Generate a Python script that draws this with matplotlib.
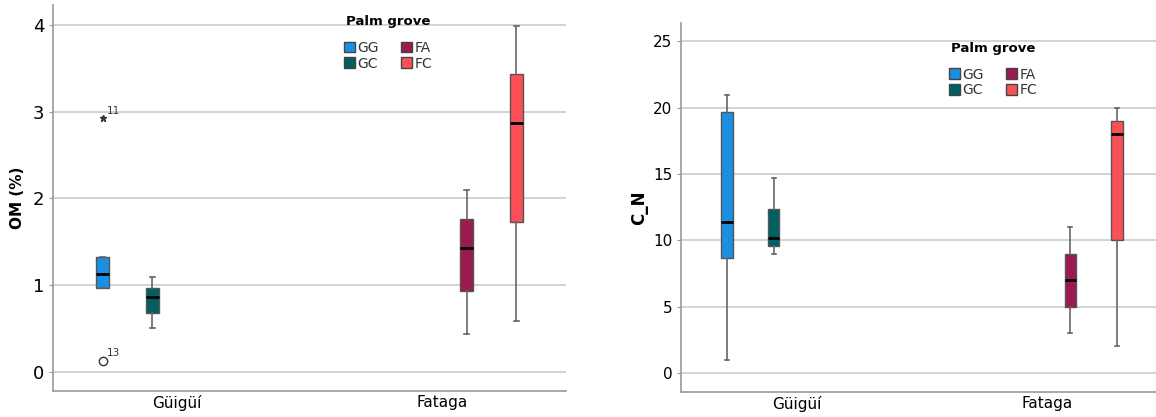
import matplotlib.pyplot as plt
from matplotlib.patches import Patch

# groups and palm groves
sites = ["Güigüí", "Fataga"]
groves = ["GG", "GC", "FA", "FC"]
grove_site = [0, 0, 1, 1]
grove_colors = ["#1a8fe3", "#005f5f", "#9c1a50", "#fc5058"]

# OM (%) box stats: whislo, q1, median, q3, whishi
om_whislo = [0.97, 0.51, 0.44, 0.59]
om_q1 = [0.97, 0.68, 0.93, 1.73]
om_med = [1.13, 0.86, 1.43, 2.87]
om_q3 = [1.32, 0.97, 1.76, 3.43]
om_whishi = [1.32, 1.09, 2.10, 3.99]
# OM outliers (GG): extreme (*) and mild (o)
om_out_vals = [2.93, 0.13]
om_out_ids = ["11", "13"]
om_out_marks = ["*", "o"]

# C_N box stats
cn_whislo = [1.0, 9.0, 3.0, 2.0]
cn_q1 = [8.7, 9.6, 5.0, 10.0]
cn_med = [11.4, 10.2, 7.0, 18.0]
cn_q3 = [19.7, 12.4, 9.0, 19.0]
cn_whishi = [21.0, 14.7, 11.0, 20.0]

SLOT = 0.187


def positions():
    return [grove_site[i] + (i - 1.5) * SLOT for i in range(len(groves))]


def draw_panel(ax, lo, q1, med, q3, hi, width, yticks, ylim, xlim, ylabel,
               ylab_size, tick_size, ylab_pad, title_xy, leg_y):
    stats = []
    for i in range(len(groves)):
        stats.append(dict(whislo=lo[i], q1=q1[i], med=med[i], q3=q3[i],
                          whishi=hi[i], fliers=[]))
    pos = positions()
    bp = ax.bxp(stats, positions=pos, widths=width, patch_artist=True,
                showfliers=False,
                boxprops=dict(edgecolor="#555555", linewidth=1.0),
                medianprops=dict(color="black", linewidth=2.0),
                whiskerprops=dict(color="#666666", linewidth=1.2),
                capprops=dict(color="#666666", linewidth=1.2),
                capwidths=width * 0.35)
    for box, c in zip(bp["boxes"], grove_colors):
        box.set_facecolor(c)
        box.set_zorder(3)
    for k in ("medians", "whiskers", "caps"):
        for ln in bp[k]:
            ln.set_zorder(3)

    ax.set_xlim(*xlim)
    ax.set_ylim(*ylim)
    ax.set_yticks(yticks)
    ax.set_xticks([0, 1])
    ax.set_xticklabels(sites, fontsize=11)
    ax.tick_params(axis="x", length=0, pad=3)
    ax.tick_params(axis="y", labelsize=tick_size, length=3, color="#999999", pad=3)
    ax.yaxis.grid(True, color="#d0d0d0", linewidth=1.3)
    ax.set_axisbelow(True)
    for s in ("top", "right"):
        ax.spines[s].set_visible(False)
    for s in ("left", "bottom"):
        ax.spines[s].set_color("#999999")
        ax.spines[s].set_linewidth(1.2)
    ax.set_ylabel(ylabel, fontsize=ylab_size, fontweight="bold", labelpad=ylab_pad)

    # legend: title as separate text so it can sit a bit higher
    ax.text(title_xy[0], title_xy[1], "Palm grove", transform=ax.transAxes,
            ha="center", va="center", fontsize=9.5, fontweight="bold")
    handles = [Patch(facecolor=c, edgecolor="#444444", label=g)
               for g, c in zip(groves, grove_colors)]
    leg = ax.legend(handles=handles, ncol=2, loc="upper center",
                    bbox_to_anchor=(title_xy[0], leg_y),
                    frameon=False, fontsize=10,
                    handlelength=0.8, handleheight=0.8, handletextpad=0.15,
                    columnspacing=1.6, labelspacing=0.12, borderpad=0.0)
    for t in leg.get_texts():
        t.set_color("#333333")
    return pos


fig = plt.figure(figsize=(11.56, 4.17), dpi=100)
ax1 = fig.add_axes([0.0458, 0.0624, 0.4438, 0.9256])
ax2 = fig.add_axes([0.589, 0.060, 0.411, 0.885])

pos = draw_panel(ax1, om_whislo, om_q1, om_med, om_q3, om_whishi, 0.05,
                 [0, 1, 2, 3, 4], (-0.22, 4.23), (-0.468, 1.468), "OM (%)",
                 11, 13, 6, (0.653, 0.956), 0.925)
for v, lab, m in zip(om_out_vals, om_out_ids, om_out_marks):
    if m == "*":
        ax1.plot(pos[0], v, marker="*", color="#333333", markersize=5, zorder=4)
    else:
        ax1.plot(pos[0], v, marker="o", markerfacecolor="white",
                 markeredgecolor="#333333", markersize=6, zorder=4)
    ax1.annotate(lab, (pos[0], v), xytext=(3, 3), textcoords="offset points",
                 fontsize=7.5, color="#333333")

draw_panel(ax2, cn_whislo, cn_q1, cn_med, cn_q3, cn_whishi, 0.046,
           [0, 5, 10, 15, 20, 25], (-1.43, 26.4), (-0.464, 1.436), "C_N",
           12, 11, 4, (0.657, 0.932), 0.898)

fig.savefig("out.png", dpi=100)
